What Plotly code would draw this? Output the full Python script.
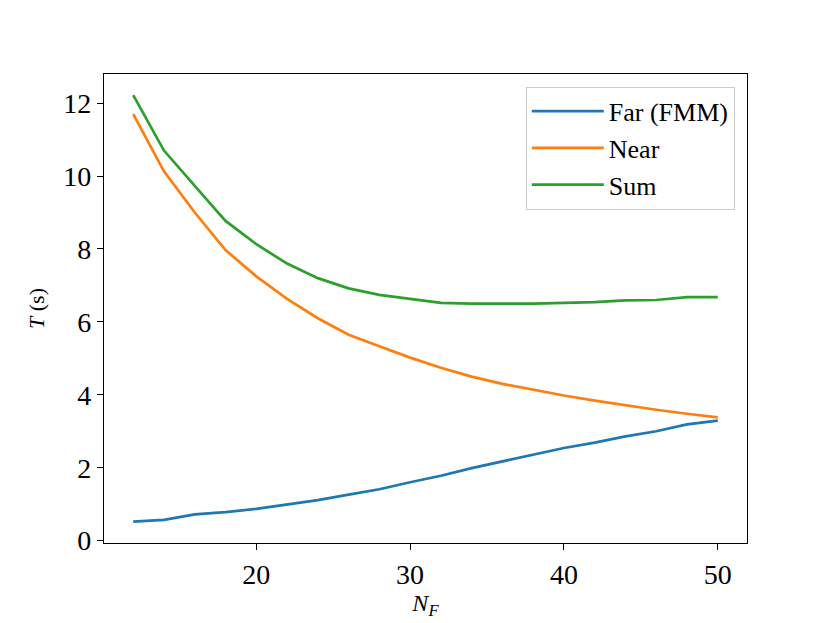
import plotly.graph_objects as go

n_f = [12, 14, 16, 18, 20, 22, 24, 26, 28, 30, 32, 34, 36, 38, 40, 42, 44, 46, 48, 50]
t_far = [0.52, 0.57, 0.72, 0.78, 0.87, 0.98, 1.11, 1.26, 1.41, 1.60, 1.78, 1.99, 2.18, 2.37,
         2.54, 2.69, 2.86, 3.00, 3.19, 3.29]
t_near = [11.70, 10.13, 9.00, 7.97, 7.25, 6.63, 6.10, 5.65, 5.33, 5.02, 4.74, 4.50, 4.30, 4.13,
          3.98, 3.84, 3.71, 3.59, 3.48, 3.38]
t_sum = [12.22, 10.70, 9.73, 8.77, 8.13, 7.60, 7.20, 6.92, 6.74, 6.62, 6.52, 6.50, 6.49, 6.50,
         6.52, 6.54, 6.59, 6.60, 6.68, 6.68]

series = [
    ("Far (FMM)", t_far, "#1f77b4"),
    ("Near", t_near, "#ff7f0e"),
    ("Sum", t_sum, "#2ca02c"),
]

fig = go.Figure()
for name, vals, col in series:
    fig.add_trace(go.Scatter(x=n_f, y=vals, mode="lines", name=name,
                             line=dict(color=col, width=2.7)))

font_family = "Liberation Serif, DejaVu Serif, serif"
axis_style = dict(showline=True, linecolor="black", linewidth=1.2, mirror=True,
                  ticks="outside", ticklen=6, tickwidth=1.2, tickcolor="black",
                  showgrid=False, zeroline=False,
                  tickfont=dict(size=28, color="black", family=font_family))

# page body has an 8px margin, so the figure is a bit smaller than the window
fig.update_layout(
    width=822, height=615,
    paper_bgcolor="white", plot_bgcolor="white",
    margin=dict(l=96, r=83, t=66, b=69),
    font=dict(family=font_family, color="black"),
    showlegend=True,
    legend=dict(x=0.981, y=0.973, xanchor="right", yanchor="top",
                bgcolor="rgba(255,255,255,0.8)", bordercolor="#cccccc", borderwidth=1,
                itemwidth=72, tracegroupgap=4,
                font=dict(size=26, family=font_family, color="black")),
    xaxis=dict(range=[10.1, 51.9], dtick=10, tick0=0,
               title=dict(text="<i>N</i><sub><i>F</i></sub>", standoff=4,
                          font=dict(size=24, family=font_family)),
               **axis_style),
    yaxis=dict(range=[-0.065, 12.8], dtick=2, tick0=0,
               title=dict(text="<i>T</i> (s)", standoff=12,
                          font=dict(size=22, family=font_family)),
               **axis_style),
)

fig.write_html("out.html")
